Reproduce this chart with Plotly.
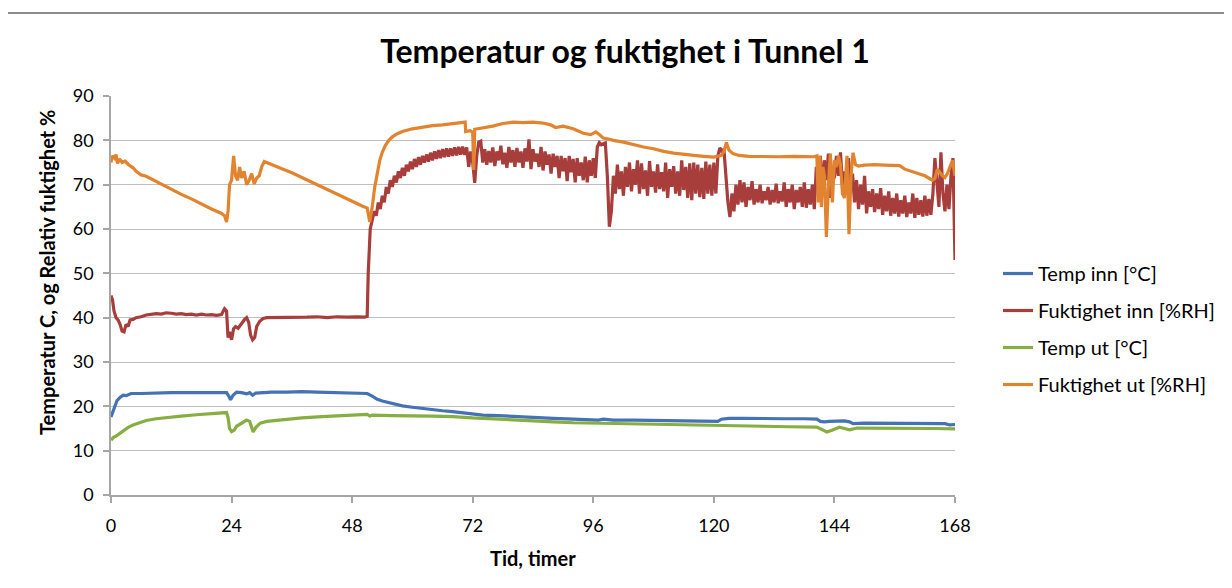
import plotly.graph_objects as go

# ---------------- data ----------------
# Fuktighet inn: quiet first part (explicit hours) ...
t_red_a = [0, 0.3, 0.6, 1.0, 1.4, 1.8, 2.2, 2.6, 3.0, 3.4, 3.8, 4.4, 5, 6, 7, 8, 9, 10, 11, 12, 13, 14, 15, 16, 17, 18, 19, 20,
           21, 22, 22.6, 23.0, 23.3, 23.6, 24.0, 24.4, 24.8, 25.3, 26, 26.6, 27, 27.4, 27.8, 28.2, 28.6, 29, 29.6, 30.3, 31, 33,
           35, 37, 39, 41, 43, 45, 47, 49, 50.5, 51.0]
fukt_inn_a = [45, 44, 41.5, 40, 39.5, 38.5, 37, 36.8, 38.5, 38, 39.5, 39.6, 40, 40.2, 40.6, 40.7, 40.9, 40.8, 41.1, 41, 40.8,
              40.9, 40.7, 40.8, 40.6, 40.8, 40.6, 40.7, 40.5, 40.7, 42, 41.5, 35.5, 36.8, 35, 37.5, 38, 37.6, 38.8, 39.6, 40,
              39, 36, 35, 35.5, 38, 39.2, 39.8, 40, 40, 40.1, 40, 40.1, 40.2, 40, 40.2, 40.1, 40.2, 40.1, 40.3]
# ... and the noisy part, logged every 0.4 h from 51.2 h to 168 h
red_b_start, red_b_step = 51.2, 0.4
fukt_inn_b = [
    50, 60, 62.5, 64, 63, 66, 64.5, 67.5, 66, 69.5,
    68, 71, 69.5, 72, 70.5, 73, 71.5, 73.8, 72, 74.5,
    73, 75.2, 73.5, 75.8, 74, 76.2, 74.5, 76.5, 75, 76.8,
    75.2, 77.2, 75.5, 77.5, 75.8, 77.8, 76, 78, 76.2, 78.2,
    76.3, 78.2, 76.5, 78.4, 76.6, 78.5, 76.8, 78.6, 76.7, 78.4,
    74, 77.5, 75, 70.4, 76.5, 79.6, 79.8, 75, 78, 74.5,
    77.6, 75, 78.4, 74.2, 77.5, 75.5, 78.8, 74.6, 77.2, 73.8,
    78.5, 75, 77.8, 74, 78.3, 75, 77.5, 73.8, 78.2, 75.2,
    80.2, 73.5, 78, 75.2, 77, 74, 78.5, 73.2, 77.5, 74.5,
    76.8, 72.5, 77, 74, 76.5, 71.5, 76.5, 73, 76, 70.8,
    76.5, 72.8, 75.8, 70.5, 76, 72, 75, 71, 76.3, 70.5,
    75.5, 72, 76, 71.5, 78.5, 79.5, 79, 79.3, 79.4, 72,
    60.5, 64, 72, 68, 74.5, 69, 73, 67.5, 74, 69.5,
    75, 68.5, 73.5, 70, 75.5, 68, 74.8, 69, 73.2, 67.5,
    75.3, 69.5, 73, 68.2, 74.6, 69, 72.8, 68.5, 75, 67,
    73.5, 69.5, 74.2, 68, 73, 67.5, 75.5, 68.8, 74, 67,
    74.8, 66.5, 75, 68, 74.5, 67.2, 73.8, 66.8, 75.2, 68,
    74.5, 67.5, 75, 68, 76.5, 78.3, 77.5, 78, 71, 66,
    62.7, 68, 64, 70, 65.5, 71, 66, 70.5, 65, 69.5,
    66.5, 70.8, 65.5, 69, 66, 70, 65.8, 68.5, 66.5, 69.5,
    65.5, 68.8, 66, 70.2, 65.8, 68.5, 66.2, 70.5, 65, 69,
    66, 70, 64.5, 68.8, 66, 69.5, 65, 70.5, 64.8, 69,
    65.5, 70, 64.5, 74, 70, 76.5, 68, 75.5, 71, 77,
    67, 73, 71.5, 76.5, 72, 77.3, 70, 73, 69, 76,
    70, 72.5, 66, 71, 64.5, 70, 65.5, 72, 63.5, 68.5,
    65, 69, 63.8, 68, 64.5, 69.2, 63.2, 67.5, 64, 68.5,
    63, 67, 63.5, 68, 62.8, 66.5, 63.5, 67.5, 62.7, 66,
    63.5, 68, 62.5, 67, 63.2, 66.5, 62.8, 67.5, 63, 66.8,
    63.2, 68, 76, 70, 65, 77.3, 68, 64, 70, 64.5,
    72, 76, 53]

t_ut = [0, 0.3, 0.7, 1.0, 1.3, 1.7, 2.2, 2.8, 3.5, 4.4, 5, 6, 7, 8, 10, 12, 14, 16, 18, 20, 22, 22.6, 23, 23.3, 23.6, 24, 24.4,
        24.8, 25.2, 25.6, 26, 26.5, 27, 27.5, 28, 28.5, 29, 29.5, 30, 30.5, 31, 32, 34, 36, 38, 40, 42, 44, 46, 48, 50, 51, 51.5,
        52, 52.5, 53, 53.5, 54, 54.6, 55.3, 56, 57, 58, 60, 62, 64, 66, 68, 70, 70.5, 70.6, 71.5, 72, 72.2, 72.4, 73, 74, 76, 78,
        80, 82, 84, 86, 87.5, 88.5, 90, 92, 94, 95.5, 96.5, 97.2, 98, 99, 100, 102, 104, 106, 108, 110, 112, 114, 116, 118, 120,
        121.5, 122, 122.5, 123, 123.8, 125, 127, 130, 133, 136, 138, 140, 140.5, 140.8, 141.1, 141.4, 141.7, 142, 142.4, 142.8,
        143.2, 143.6, 144, 144.4, 144.8, 145.2, 145.6, 146, 146.5, 146.9, 147.3, 147.7, 148.2, 148.8, 150, 152, 154, 156, 157,
        158, 160, 162, 163.5, 164, 164.5, 165, 165.5, 166, 166.5, 167, 167.5, 168]
fukt_ut = [75, 76.5, 76, 76.8, 74.8, 75.8, 75, 75.3, 74.5, 73.8, 73, 72.2, 71.9, 71.3, 70.2, 69, 67.8, 66.8, 65.6, 64.5, 63.5, 63,
           61.6, 64, 70, 71, 76.5, 72, 71, 74, 71.5, 73, 70, 71, 72.5, 70.2, 71.5, 72, 74, 75.2, 75, 74.5, 73.6, 72.7, 71.6, 70.5,
           69.5, 68.3, 67.3, 66.2, 65.2, 64.7, 61.6, 65, 69.5, 72.5, 75.5, 77.3, 78.8, 80, 80.8, 81.5, 82, 82.6, 83, 83.3, 83.5,
           83.8, 84, 84.1, 82, 82.2, 81.8, 73.3, 82.5, 82.6, 82.9, 83.2, 83.8, 84.1, 84, 84.1, 83.9, 83.5, 82.9, 83.2, 82.6, 81.6,
           81.3, 81.9, 81.3, 80.5, 80.3, 80, 79.6, 79, 78.5, 78.1, 77.5, 77.1, 76.8, 76.6, 76.4, 76.2, 76.6, 77.5, 79.5, 77.8, 77,
           76.6, 76.4, 76.3, 76.3, 76.4, 76.4, 76.3, 76.5, 66, 76.5, 65, 74, 72, 58.2, 70, 77, 66, 75.5, 74, 76.5, 74.5, 68, 67,
           76.5, 58.8, 72, 77.2, 74.5, 74.2, 74.4, 74.5, 74.4, 74.4, 74.3, 73.5, 72.8, 72, 71, 71.4, 73.5, 72.6, 72, 71.6, 72.5,
           74, 75.5, 72]

t_temp_inn = [0, 0.4, 0.8, 1.2, 1.8, 2.4, 3, 4, 6, 8, 10, 12, 14, 16, 18, 20, 22, 23, 23.5, 23.8, 24.3, 25, 26, 27, 27.6, 28.2,
              28.8, 30, 32, 35, 38, 41, 44, 47, 50, 51, 52, 53, 54, 56, 58, 60, 62, 64, 66, 68, 70, 71, 72, 74, 77, 80, 84,
              88, 92, 96, 97, 98, 100, 104, 108, 112, 116, 120, 120.8, 121.5, 123, 126, 130, 134, 138, 140.5, 141.2, 142,
              143, 144, 145, 146, 147, 147.7, 150, 155, 160, 165, 166, 167, 168]
temp_inn = [17.6, 19, 20.3, 21.3, 22, 22.5, 22.4, 22.9, 22.9, 23, 23, 23.1, 23.1, 23.1, 23.2, 23.2, 23.2, 23.1, 22.2, 21.5, 22.5,
            23.2, 23.1, 22.8, 23.1, 22.5, 23, 23.1, 23.2, 23.2, 23.3, 23.2, 23.1, 23.1, 23, 22.9, 22.3, 21.6, 21.2, 20.6, 20.1,
            19.8, 19.5, 19.3, 19, 18.8, 18.5, 18.5, 18.2, 18, 17.9, 17.7, 17.5, 17.3, 17.1, 17, 16.9, 17.1, 16.9, 16.9, 16.8,
            16.8, 16.7, 16.5, 16.6, 17.1, 17.3, 17.3, 17.2, 17.2, 17.2, 17.1, 16.6, 16.5, 16.6, 16.6, 16.6, 16.7, 16.5, 16.1,
            16.2, 16.2, 16.2, 16.1, 16.1, 15.8, 15.9]

t_temp_ut = [0, 0.5, 1, 1.8, 2.5, 3.5, 4.4, 5.5, 7, 9, 11, 14, 17, 20, 22.3, 23, 23.3, 23.6, 24, 24.5, 25, 26, 27, 27.6, 28,
             28.3, 28.8, 29.7, 31, 34, 38, 42, 46, 50, 51, 51.5, 52, 56, 60, 64, 68, 70.8, 72, 74, 77, 80, 84, 88, 92, 96,
             100, 105, 110, 115, 120, 122.6, 126, 130, 135, 140.5, 141.5, 142.5, 143.5, 144.5, 145, 146, 147, 148.5, 152,
             156, 160, 164, 168]
temp_ut = [12.4, 13, 13.3, 14, 14.6, 15.3, 15.8, 16.3, 16.8, 17.2, 17.5, 17.8, 18.1, 18.4, 18.6, 18.6, 17.5, 15, 14.3, 14.6,
           15.5, 16.3, 16.9, 16.6, 15, 14.2, 15.2, 16.2, 16.6, 17, 17.4, 17.7, 17.9, 18.1, 18.2, 17.8, 18, 17.9, 17.9, 17.8,
           17.7, 17.6, 17.4, 17.3, 17.1, 16.9, 16.7, 16.5, 16.3, 16.2, 16.1, 16, 15.9, 15.8, 15.7, 15.6, 15.5, 15.5, 15.4,
           15.3, 14.8, 14.2, 14.6, 15.2, 15.3, 15, 14.7, 15.1, 15.1, 15.1, 15.1, 15, 14.9]

series_names = ["Temp inn [°C]", "Fuktighet inn [%RH]", "Temp ut [°C]", "Fuktighet ut [%RH]"]
x_ticks = [0, 24, 48, 72, 96, 120, 144, 168]
y_ticks = [0, 10, 20, 30, 40, 50, 60, 70, 80, 90]

title_text = "Temperatur og fuktighet i Tunnel 1"
x_title = "Tid, timer"
y_title = "Temperatur C, og Relativ fuktighet %"

# ---------------- figure ----------------
t_red = t_red_a + [round(red_b_start + i * red_b_step, 2) for i in range(len(fukt_inn_b))]
fukt_inn = fukt_inn_a + fukt_inn_b

FONT = "Lato"
colors = ["#4472B4", "#A83E3B", "#87AE42", "#E2842F"]
series = [(t_temp_inn, temp_inn), (t_red, fukt_inn), (t_temp_ut, temp_ut), (t_ut, fukt_ut)]

fig = go.Figure()
for i, ((tx, ty), name) in enumerate(zip(series, series_names)):
    fig.add_trace(go.Scatter(x=tx, y=ty, mode="lines", name=name,
                             line=dict(color=colors[i], width=3.2),
                             legendgroup=f"g{i}"))

OFF = 8  # page body margin
W, H = 1232, 588
L, R, T, B = 111 - OFF, 955 - OFF, 96 - OFF, 495 - OFF


def px(xp):
    return (xp - OFF - L) / (R - L)


def py(yp):
    return (B - (yp - OFF)) / (B - T)


fig.update_layout(
    width=W, height=H,
    margin=dict(l=L, r=W - R, t=T, b=H - B, autoexpand=False),
    paper_bgcolor="white", plot_bgcolor="white",
    font=dict(family=FONT, color="#000000", size=17),
    title=dict(text="<b>" + title_text + "</b>", x=(625 - OFF) / W, xanchor="center",
               y=1 - (52 - OFF) / H, yanchor="middle",
               font=dict(family=FONT, size=32, color="#000000")),
    showlegend=True,
    legend=dict(x=px(998), xanchor="left", y=py(254), yanchor="top",
                font=dict(family=FONT, size=20, color="#000000"),
                tracegroupgap=8, bgcolor="rgba(0,0,0,0)"),
    xaxis=dict(range=[0, 168], tickvals=x_ticks, ticktext=[str(v) for v in x_ticks],
               showgrid=False, zeroline=False, showline=True, linecolor="#A6A6A6", linewidth=1.5,
               ticks="outside", ticklen=6, tickcolor="#A6A6A6", tickwidth=1.5,
               tickfont=dict(family=FONT, size=18, color="#000000"), ticklabelstandoff=8),
    yaxis=dict(range=[0, 90], tickvals=y_ticks, showgrid=True, gridcolor="#BFBFBF", gridwidth=1.2,
               zeroline=False, showline=True, linecolor="#A6A6A6", linewidth=1.5,
               ticks="outside", ticklen=6, tickcolor="#A6A6A6", tickwidth=1.5,
               tickfont=dict(family=FONT, size=18, color="#000000"), ticklabelstandoff=6),
)

# axis titles as annotations (positioned like the reference)
fig.add_annotation(text="<b>" + x_title + "</b>", xref="paper", yref="paper",
                   x=px(533), y=py(558), xanchor="center", yanchor="middle",
                   showarrow=False, font=dict(family=FONT, size=20, color="#000000"))
fig.add_annotation(text="<b>" + y_title + "</b>", xref="paper", yref="paper",
                   x=px(47), y=py(273), xanchor="center", yanchor="middle",
                   textangle=-90, showarrow=False, font=dict(family=FONT, size=20, color="#000000"))

# outer chart frame
fig.add_shape(type="rect", xref="paper", yref="paper", layer="below",
              x0=px(5), x1=px(1260), y0=py(620), y1=py(13),
              line=dict(color="#8C8C8C", width=2), fillcolor="rgba(0,0,0,0)")

fig.write_html("out.html")
